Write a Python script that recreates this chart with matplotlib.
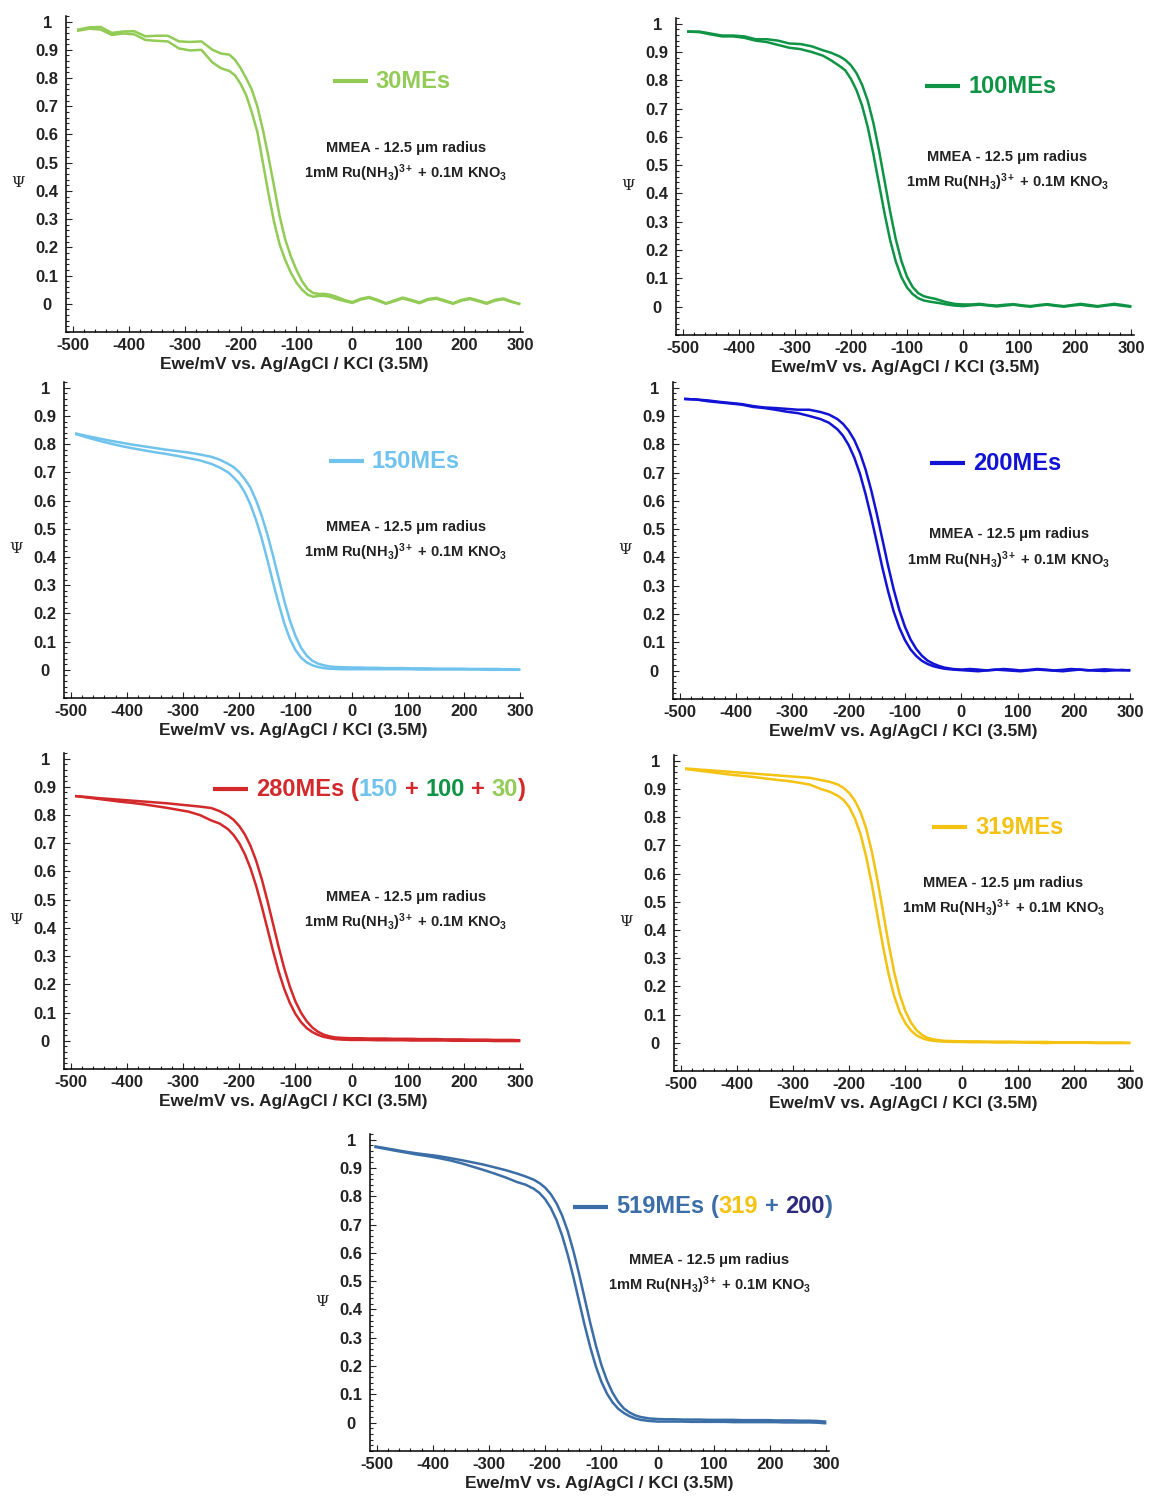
import numpy as np
import matplotlib
matplotlib.use('Agg')
import matplotlib.pyplot as plt
from matplotlib.ticker import MultipleLocator, FixedLocator

plt.rcParams['font.family'] = ['Liberation Sans', 'DejaVu Sans']
plt.rcParams['font.weight'] = 'bold'
plt.rcParams['axes.unicode_minus'] = False
plt.rcParams['mathtext.fontset'] = 'custom'
plt.rcParams['mathtext.rm'] = 'Liberation Sans:bold'
plt.rcParams['mathtext.it'] = 'Liberation Sans:bold'
plt.rcParams['mathtext.bf'] = 'Liberation Sans:bold'

# potential (mV vs Ag/AgCl) where the curves were read
E = [-490, -470, -450, -430, -410, -390, -370, -350, -330, -310, -290, -270, -250,
     -235, -220, -210, -200, -190, -180, -170, -160, -150, -140, -130, -120, -110,
     -100, -90, -80, -70, -60, -50, -40, -30, -15, 0, 15, 30, 45, 60, 75, 90, 105,
     120, 135, 150, 165, 180, 195, 210, 225, 240, 255, 270, 285, 298]
E_519 = [-502] + E[1:]

# normalised current Psi, two branches of each voltammogram (upper / lower)
psi_30_up = [0.972, 0.98, 0.981, 0.96, 0.965, 0.966, 0.948, 0.95, 0.95, 0.93, 0.928, 0.93, 0.90,
             0.887, 0.883, 0.865, 0.836, 0.80, 0.76, 0.70, 0.617, 0.52, 0.416, 0.31, 0.227, 0.168,
             0.12, 0.08, 0.052, 0.038, 0.035, 0.035, 0.032, 0.026, 0.014, 0.006, 0.018, 0.024, 0.014,
             0.002, 0.012, 0.022, 0.014, 0.005, 0.017, 0.021, 0.012, 0.002, 0.014, 0.02, 0.012, 0.003,
             0.014, 0.019, 0.008, 0.0]
psi_30_low = [0.968, 0.975, 0.972, 0.953, 0.958, 0.955, 0.935, 0.932, 0.93, 0.905, 0.898, 0.90, 0.855,
              0.835, 0.825, 0.81, 0.78, 0.74, 0.68, 0.61, 0.50, 0.39, 0.29, 0.21, 0.155, 0.11,
              0.075, 0.05, 0.032, 0.025, 0.028, 0.028, 0.025, 0.018, 0.01, 0.003, 0.015, 0.021, 0.011,
              0.0, 0.009, 0.019, 0.011, 0.002, 0.014, 0.018, 0.009, 0.0, 0.011, 0.017, 0.009, 0.0,
              0.011, 0.016, 0.006, 0.0]

psi_100_up = [0.972, 0.972, 0.965, 0.958, 0.958, 0.955, 0.945, 0.945, 0.94, 0.93, 0.928, 0.92, 0.906,
              0.897, 0.884, 0.872, 0.853, 0.825, 0.784, 0.728, 0.65, 0.553, 0.445, 0.336, 0.239, 0.162,
              0.106, 0.07, 0.048, 0.037, 0.032, 0.028, 0.022, 0.016, 0.01, 0.008, 0.008, 0.01, 0.006,
              0.004, 0.007, 0.009, 0.005, 0.002, 0.006, 0.009, 0.005, 0.002, 0.006, 0.01, 0.006, 0.002,
              0.006, 0.01, 0.006, 0.002]
psi_100_low = [0.972, 0.97, 0.962, 0.955, 0.955, 0.95, 0.94, 0.935, 0.925, 0.915, 0.91, 0.90, 0.887,
               0.87, 0.85, 0.835, 0.805, 0.765, 0.71, 0.635, 0.54, 0.435, 0.33, 0.235, 0.16, 0.105,
               0.068, 0.045, 0.03, 0.022, 0.018, 0.015, 0.012, 0.008, 0.004, 0.002, 0.005, 0.007, 0.004,
               0.001, 0.004, 0.007, 0.003, 0.0, 0.004, 0.007, 0.003, 0.0, 0.004, 0.007, 0.003, 0.0,
               0.004, 0.007, 0.003, 0.0]

psi_150_up = [0.837, 0.828, 0.82, 0.812, 0.805, 0.798, 0.792, 0.786, 0.78, 0.775, 0.77, 0.763, 0.755,
              0.745, 0.73, 0.718, 0.70, 0.675, 0.645, 0.60, 0.545, 0.48, 0.405, 0.325, 0.245, 0.175,
              0.12, 0.078, 0.05, 0.032, 0.022, 0.016, 0.012, 0.01, 0.009, 0.008, 0.008, 0.007, 0.007,
              0.006, 0.006, 0.006, 0.005, 0.005, 0.005, 0.004, 0.004, 0.004, 0.004, 0.003, 0.003, 0.003,
              0.003, 0.002, 0.002, 0.001]
psi_150_low = [0.835, 0.823, 0.812, 0.802, 0.793, 0.785, 0.778, 0.771, 0.765, 0.758, 0.75, 0.742, 0.73,
               0.717, 0.70, 0.682, 0.66, 0.628, 0.585, 0.53, 0.465, 0.39, 0.31, 0.235, 0.165, 0.11,
               0.07, 0.043, 0.026, 0.016, 0.01, 0.006, 0.004, 0.003, 0.002, 0.002, 0.002, 0.002, 0.002,
               0.002, 0.002, 0.002, 0.002, 0.001, 0.001, 0.001, 0.001, 0.001, 0.001, 0.001, 0.001, 0.0,
               0.0, 0.0, 0.0, 0.0]

psi_200_up = [0.96, 0.958, 0.955, 0.95, 0.946, 0.942, 0.935, 0.93, 0.928, 0.925, 0.922, 0.922, 0.914,
              0.905, 0.889, 0.872, 0.848, 0.815, 0.77, 0.711, 0.638, 0.554, 0.463, 0.371, 0.287, 0.214,
              0.155, 0.11, 0.077, 0.053, 0.036, 0.025, 0.017, 0.011, 0.006, 0.004, 0.006, 0.004, 0.001,
              0.003, 0.006, 0.004, 0.001, 0.003, 0.006, 0.004, 0.001, 0.003, 0.006, 0.004, 0.001, 0.003,
              0.005, 0.003, 0.001, 0.002]
psi_200_low = [0.96, 0.958, 0.952, 0.948, 0.944, 0.94, 0.932, 0.928, 0.922, 0.915, 0.91, 0.90, 0.889,
               0.876, 0.853, 0.83, 0.797, 0.753, 0.696, 0.624, 0.542, 0.453, 0.363, 0.281, 0.209, 0.152,
               0.108, 0.075, 0.052, 0.035, 0.024, 0.016, 0.011, 0.007, 0.004, 0.002, 0.0, -0.002, 0.001,
               0.004, 0.002, 0.0, -0.002, 0.001, 0.004, 0.002, 0.0, -0.002, 0.001, 0.004, 0.002, 0.0,
               -0.001, 0.001, 0.003, 0.001]

psi_280_up = [0.867, 0.864, 0.86, 0.857, 0.854, 0.851, 0.848, 0.845, 0.842, 0.838, 0.834, 0.83, 0.825,
              0.814, 0.798, 0.783, 0.761, 0.731, 0.691, 0.638, 0.573, 0.497, 0.415, 0.333, 0.257, 0.192,
              0.139, 0.099, 0.069, 0.047, 0.032, 0.022, 0.016, 0.012, 0.01, 0.009, 0.009, 0.008, 0.008,
              0.008, 0.007, 0.007, 0.007, 0.006, 0.006, 0.006, 0.005, 0.005, 0.005, 0.004, 0.004, 0.004,
              0.003, 0.003, 0.003, 0.002]
psi_280_low = [0.867, 0.862, 0.857, 0.852, 0.847, 0.843, 0.838, 0.832, 0.826, 0.819, 0.812, 0.80, 0.781,
               0.77, 0.75, 0.729, 0.70, 0.661, 0.611, 0.549, 0.476, 0.398, 0.319, 0.246, 0.184, 0.134,
               0.095, 0.066, 0.045, 0.031, 0.021, 0.014, 0.01, 0.006, 0.004, 0.003, 0.003, 0.003, 0.002,
               0.002, 0.002, 0.002, 0.001, 0.001, 0.001, 0.001, 0.001, 0.0, 0.0, 0.0, 0.0, 0.0,
               -0.001, -0.001, -0.001, -0.001]

psi_319_up = [0.972, 0.969, 0.966, 0.963, 0.96, 0.957, 0.954, 0.951, 0.948, 0.945, 0.942, 0.939, 0.931,
              0.925, 0.915, 0.903, 0.885, 0.858, 0.818, 0.76, 0.679, 0.578, 0.465, 0.351, 0.25, 0.169,
              0.111, 0.071, 0.044, 0.027, 0.017, 0.012, 0.009, 0.007, 0.006, 0.005, 0.005, 0.005, 0.004,
              0.004, 0.004, 0.004, 0.003, 0.003, 0.003, 0.003, 0.002, 0.002, 0.002, 0.002, 0.002, 0.001,
              0.001, 0.001, 0.001, 0.0]
psi_319_low = [0.97, 0.965, 0.96, 0.955, 0.95, 0.946, 0.942, 0.937, 0.932, 0.928, 0.922, 0.915, 0.899,
               0.89, 0.875, 0.86, 0.835, 0.795, 0.74, 0.66, 0.563, 0.453, 0.342, 0.243, 0.165, 0.108,
               0.069, 0.043, 0.026, 0.016, 0.01, 0.007, 0.005, 0.004, 0.003, 0.003, 0.002, 0.002, 0.002,
               0.001, 0.001, 0.001, 0.001, 0.0, 0.0, -0.001, 0.0, 0.0, 0.0, 0.0, 0.0, -0.001,
               -0.001, -0.001, -0.001, -0.001]

psi_519_up = [0.976, 0.965, 0.958, 0.952, 0.947, 0.942, 0.935, 0.928, 0.92, 0.912, 0.902, 0.892, 0.88,
              0.87, 0.858, 0.846, 0.83, 0.807, 0.775, 0.732, 0.677, 0.607, 0.527, 0.44, 0.353, 0.273,
              0.203, 0.148, 0.105, 0.073, 0.05, 0.036, 0.026, 0.02, 0.015, 0.013, 0.012, 0.012, 0.011,
              0.011, 0.011, 0.01, 0.01, 0.01, 0.01, 0.009, 0.009, 0.009, 0.009, 0.008, 0.008, 0.008,
              0.007, 0.007, 0.006, 0.004]
psi_519_low = [0.974, 0.962, 0.955, 0.948, 0.942, 0.935, 0.927, 0.917, 0.905, 0.893, 0.88, 0.866, 0.85,
               0.841, 0.826, 0.811, 0.789, 0.758, 0.716, 0.661, 0.593, 0.515, 0.43, 0.345, 0.267, 0.199,
               0.144, 0.102, 0.071, 0.049, 0.034, 0.023, 0.015, 0.01, 0.006, 0.004, 0.004, 0.004, 0.004,
               0.003, 0.003, 0.003, 0.003, 0.003, 0.002, 0.002, 0.002, 0.002, 0.002, 0.002, 0.001, 0.001,
               0.001, 0.001, 0.0, -0.002]

x_ticks = [-500, -400, -300, -200, -100, 0, 100, 200, 300]
y_ticks = [0, 0.1, 0.2, 0.3, 0.4, 0.5, 0.6, 0.7, 0.8, 0.9, 1]
y_ticklabels = ['0', '0.1', '0.2', '0.3', '0.4', '0.5', '0.6', '0.7', '0.8', '0.9', '1']

c30 = '#92cb55'
c100 = '#0f9446'
c150 = '#70c3ec'
c200 = '#1212d4'
c280 = '#d3292b'
c319 = '#f3c212'
c519 = '#3b6ea6'
c_navy = '#2c2a7d'

W, H = 1149, 1497
fig = plt.figure(figsize=(W / 100, H / 100), dpi=100)


def px_axes(l, t, r, b):
    return fig.add_axes([l / W, (H - b) / H, (r - l) / W, (b - t) / H])


def legend_text(ax, x, y, parts):
    # line key followed by multi-coloured bold label
    ax.plot([x, x + 0.076], [y, y], transform=ax.transAxes, color=parts[0][1],
            lw=3, clip_on=False, solid_capstyle='butt')
    t = ax.text(x + 0.094, y, parts[0][0], transform=ax.transAxes, color=parts[0][1],
                fontsize=17, fontweight='bold', ha='left', va='center')
    for s, c, gap in parts[1:]:
        t = ax.annotate(s, xy=(1, 0), xycoords=t, xytext=(gap, 0), textcoords='offset points',
                        color=c, fontsize=17, fontweight='bold', ha='left', va='bottom')


def panel(rect, xs, y_up, y_low, color, parts, leg_xy, note_xy):
    ax = px_axes(*rect)
    ax.plot(xs, y_up, color=color, lw=1.8, solid_joinstyle='round')
    ax.plot(xs, y_low, color=color, lw=1.8, solid_joinstyle='round')
    ax.set_xlim(-512, 305)
    ax.set_ylim(-0.1, 1.02)
    for side in ['top', 'right']:
        ax.spines[side].set_visible(False)
    for side in ['left', 'bottom']:
        ax.spines[side].set_linewidth(1.1)
    ax.xaxis.set_major_locator(FixedLocator(x_ticks))
    ax.xaxis.set_minor_locator(MultipleLocator(20))
    ax.yaxis.set_major_locator(FixedLocator(y_ticks))
    ax.yaxis.set_minor_locator(MultipleLocator(0.02))
    ax.set_yticklabels(y_ticklabels)
    ax.tick_params(which='both', direction='in', labelsize=12, colors='#222222', width=0.8)
    ax.tick_params(which='major', length=4)
    ax.tick_params(which='minor', length=2.5)
    ax.tick_params(axis='x', pad=4)
    ax.tick_params(axis='y', pad=13.5)
    for lbl in ax.get_yticklabels():
        lbl.set_horizontalalignment('center')
    ax.set_xlabel('Ewe/mV vs. Ag/AgCl / KCl (3.5M)', fontsize=12.5, fontweight='bold',
                  color='#222222', labelpad=3)
    ax.text(-0.105, 0.47, 'Ψ', transform=ax.transAxes, fontsize=11, family='DejaVu Serif',
            fontweight='normal', ha='center', va='center', color='#222222')
    legend_text(ax, leg_xy[0], leg_xy[1], parts)
    ax.text(note_xy[0], note_xy[1], 'MMEA - 12.5 μm radius', transform=ax.transAxes,
            fontsize=10.5, fontweight='bold', ha='center', va='center', color='#222222')
    ax.text(note_xy[0], note_xy[1] - 0.081, r'1mM Ru(NH$_3$)$^{3+}$ + 0.1M KNO$_3$',
            transform=ax.transAxes, fontsize=10.5, fontweight='bold', ha='center',
            va='center', color='#222222')
    return ax


sp = 4.7  # width of a space at 17 pt, in points

panel((66, 16, 523, 332), E, psi_30_up, psi_30_low, c30,
      [('30MEs', c30)], (0.584, 0.794), (0.744, 0.582))
panel((676, 18, 1134, 335), E, psi_100_up, psi_100_low, c100,
      [('100MEs', c100)], (0.544, 0.785), (0.723, 0.562))
panel((64, 382, 523, 698), E, psi_150_up, psi_150_low, c150,
      [('150MEs', c150)], (0.577, 0.75), (0.745, 0.541))
panel((673, 382, 1133, 699), E, psi_200_up, psi_200_low, c200,
      [('200MEs', c200)], (0.558, 0.744), (0.73, 0.52))
panel((64, 753, 523, 1069), E, psi_280_up, psi_280_low, c280,
      [('280MEs', c280), ('(', c280, sp), ('150', c150, 0), ('+', c280, sp),
       ('100', c100, sp), ('+', c280, sp), ('30', c30, sp), (')', c280, 0)],
      (0.325, 0.886), (0.745, 0.544))
panel((674, 755, 1133, 1071), E, psi_319_up, psi_319_low, c319,
      [('319MEs', c319)], (0.562, 0.772), (0.717, 0.595))
panel((370, 1134, 829, 1451), E_519, psi_519_up, psi_519_low, c519,
      [('519MEs', c519), ('(', c519, sp), ('319', c319, 0), ('+', c519, sp),
       ('200', c_navy, sp), (')', c519, 0)],
      (0.442, 0.77), (0.739, 0.603))

fig.savefig('out.png', dpi=100)
